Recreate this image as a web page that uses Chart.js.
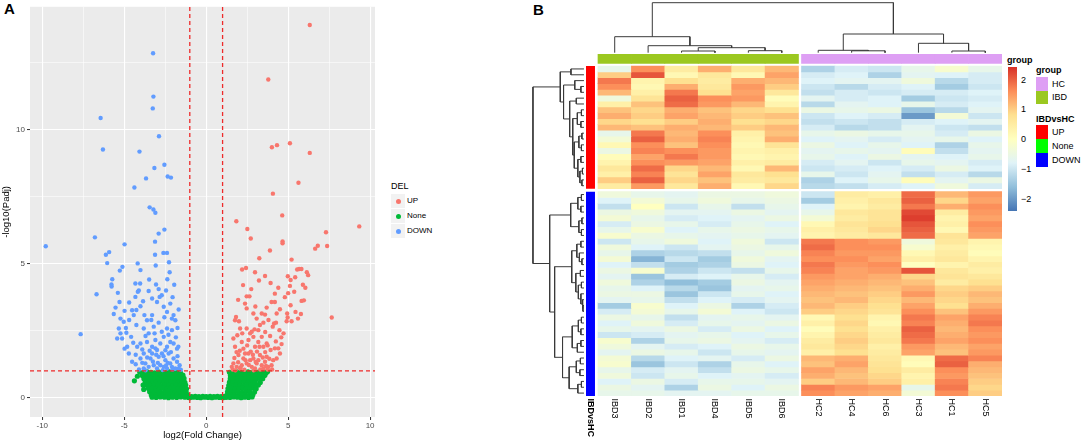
<!DOCTYPE html>
<html>
<head>
<meta charset="utf-8">
<script src="https://cdn.jsdelivr.net/npm/chart.js@4.4.1/dist/chart.umd.min.js"></script>
<style>
  body { margin: 0; width: 1084px; height: 443px; overflow: hidden; position: relative; background: #fff;
         font-family: "Liberation Sans", Arial, sans-serif; }
  canvas { position: absolute; }
  .t { position: absolute; white-space: nowrap; color: #000; }
  .key { position: absolute; }
</style>
</head>
<body>
<div class="t" style="left:4px;top:0px;font-weight:bold;font-size:15px;">A</div>
<div class="t" style="left:533px;top:1px;font-weight:bold;font-size:15px;">B</div>

<canvas id="volcano" width="380" height="443" style="left:0;top:0;"></canvas>
<div id="delLegend"></div>

<canvas id="colDendro" width="416" height="54" style="left:586px;top:0;"></canvas>
<canvas id="rowDendro" width="56" height="342" style="left:530px;top:54px;"></canvas>
<canvas id="heatmap" width="416" height="389" style="left:586px;top:54px;"></canvas>
<div id="heatLegend"></div>

<script>
Chart.defaults.font.family = '"Liberation Sans", Arial, sans-serif';

// ---------- volcano data (log2FC, -log10 padj) ----------
const upPts = [
  [6.32,13.9],[3.79,11.87],[4.01,9.34],[4.32,9.42],[5.11,9.49],[6.32,9.13],[5.63,8.02],[4.07,7.61],
  [4.64,6.8],[1.84,6.58],[2.51,6.29],[9.34,6.39],[2.72,5.94],[7.31,6.17],[4.66,5.83],[4.66,5.76],
  [7.38,5.66],[6.65,5.56],[6.81,5.67],[3.89,5.49],[3.24,5.2],[5.21,5.15],[2.19,4.78],[2.43,4.84],
  [2.98,4.68],[3.59,4.54],[3.22,4.37],[3.93,4.28],[4.98,4.53],[5.15,4.39],[5.43,4.49],[5.11,4.17],
  [5.55,4.78],[5.67,4.8],[5.81,4.8],[6.14,4.68],[6.22,4.57],[5.9,4.21],
  [7.66,2.99],[5.82,3.61],[5.96,3.63],[5.37,3.95],[5.15,3.45],[5.78,3.12],[4.94,3.14],[4.97,2.99],
  [5.21,2.85],[4.91,2.85],[4.3,3.14],[4.19,3.57],[3.99,3.57],[4.19,3.88],[3.69,3.36],[3.39,3.14],
  [3.59,3.1],[3.08,2.95],[2.88,3.14],[2.47,3.33],[2.37,3.51],[2.47,3.78],[2.64,3.78],[1.82,3.01],
  [1.76,2.89],[2.07,2.58],[2.47,2.58],[2.68,2.4],[2.78,2.46],[3.18,2.52],[3.28,2.71],[3.49,2.8],
  [4.14,2.77],[4.26,2.8],[4.06,2.65],[4.47,2.52],[4.72,2.4],[4.58,2.25],[1.66,2.21],[1.9,2.33],
  [1.76,1.9],[2.17,2.08],[2.27,1.83],[2.58,2.15],[2.88,2.27],[2.98,1.9],[3.18,2.08],[3.39,2.27],
  [3.49,1.9],[3.69,2.02],[3.93,1.78],[4.19,1.84],[4.4,1.84],[4.5,1.65],[4.3,1.46],[4.09,1.4],
  [3.69,1.53],[3.28,1.59],[2.88,1.46],[2.58,1.65],[2.27,1.46],[1.97,1.59],[1.66,1.28],[1.56,1.15],
  [1.86,1.15],[2.17,1.21],[2.47,1.28],[2.78,1.15],[3.08,1.28],[3.39,1.21],[3.59,1.34],[3.79,1.15],
  [3.99,1.21],[2.07,1.09],[2.98,1.09],[3.49,1.09],[2.68,1.4],[3.18,1.4],[2.37,1.65],
  [1.62,1.05],[1.95,1.32],[2.33,1.04],[2.6,1.22],[2.85,1.6],[3.02,1.33],[3.3,1.05],[3.6,1.7],
  [3.85,1.45],[4.02,1.05],[1.72,1.48],[2.05,1.75],[2.5,1.95],[2.72,1.72],[3.1,1.72],[3.45,1.5],
  [3.75,1.95],[4.25,2.1],[2.2,2.4],[2.95,2.55],[3.6,2.45],[1.85,1.7],[2.4,1.4],[3.25,1.9],
  [3.9,2.3],[4.6,2.0],[2.0,2.85],[3.0,3.4],[3.8,2.9],[4.5,3.3],[4.8,3.75],[5.45,3.2],
  [5.0,3.9],[6.05,4.1],[2.25,4.2],[1.95,3.65],[2.75,4.05],[5.6,2.95],[4.4,4.1],[2.1,1.12],
  [3.65,1.18],[1.78,1.02],[2.9,1.02],[3.75,1.05]
];
const downPts = [
  [-3.24,12.85],[-3.22,11.23],[-3.26,10.79],[-6.44,10.43],[-2.88,9.75],[-6.3,9.26],[-4.07,9.18],
  [-2.55,8.69],[-3.16,8.57],[-2.35,8.25],[-2.15,8.21],[-3.67,8.18],[-4.38,7.84],[-3.45,7.1],
  [-3.22,7.02],[-3.1,6.9],[-2.55,6.27],[-2.9,6.12],[-6.79,5.98],[-4.98,5.72],[-9.79,5.65],
  [-3.12,5.82],[-5.92,5.43],[-6.12,5.33],[-3.12,5.33],[-2.61,5.4],[-2.39,5.4],[-6.04,5.02],
  [-4.18,5.01],[-2.27,5.05],[-3.08,4.93],[-5.11,4.88],[-5.27,4.74],[-4.01,4.76],[-2.23,4.68],
  [-5.73,4.42],[-3.48,4.41],[-2.37,4.42],[-5.78,4.22],[-5.77,4.15],[-4.32,4.26],[-4.03,4.26],
  [-3.06,4.22],[-1.95,4.21],[-4.11,4.0],[-2.9,4.05],
  [-6.69,3.86],[-5.39,3.91],[-5.29,3.57],[-5.53,3.36],[-5.64,3.12],[-4.98,3.24],[-4.32,3.76],
  [-4.17,3.95],[-4.01,3.41],[-4.26,3.27],[-4.52,3.26],[-4.42,3.08],[-3.77,3.08],[-3.51,3.98],
  [-3.61,2.89],[-3.3,3.08],[-3.0,3.57],[-2.84,3.76],[-2.71,3.82],[-2.59,3.39],[-2.39,3.2],
  [-2.19,3.51],[-1.99,3.08],[-1.68,3.29],[-1.88,2.89],[-2.09,2.95],[-5.23,2.95],[-5.03,2.83],
  [-5.33,2.58],[-5.23,2.4],[-4.87,2.42],[-5.43,2.21],[-5.13,2.21],[-4.58,2.27],[-7.66,2.37],
  [-4.26,2.71],[-3.81,2.58],[-3.51,2.4],[-3.2,2.65],[-2.9,2.8],[-2.71,2.46],[-2.39,2.58],
  [-2.09,2.52],[-4.21,1.9],[-4.01,2.02],[-4.82,1.9],[-4.98,1.83],[-4.72,1.65],[-4.52,1.34],
  [-3.81,1.65],[-3.61,2.08],[-3.3,1.9],[-3.1,2.15],[-3.0,1.78],[-2.8,2.02],[-2.59,2.27],
  [-2.39,1.9],[-2.19,2.08],[-1.99,2.02],[-1.78,1.83],[-4.01,1.46],[-3.71,1.28],[-3.4,1.46],
  [-3.2,1.21],[-2.9,1.53],[-2.8,1.21],[-2.49,1.4],[-2.29,1.65],[-2.19,1.28],[-1.99,1.46],
  [-1.78,1.34],[-1.62,1.21],[-3.51,1.15],[-3.0,1.09],[-2.59,1.15],[-2.39,1.09],[-2.09,1.15],
  [-1.88,1.09],[-1.68,1.09],[-3.81,1.09],[-3.1,1.84],[-2.7,1.65],[-2.49,1.77],[-3.3,1.65],
  [-4.1,1.05],[-3.9,1.3],[-3.6,1.5],[-3.25,1.35],[-2.95,1.3],[-2.65,1.03],[-2.35,1.3],
  [-2.05,1.05],[-1.75,1.55],[-1.55,1.04],[-2.15,1.7],[-2.6,1.55],[-3.45,1.75],[-3.9,1.8],
  [-4.3,1.6],[-1.85,2.25],[-2.3,2.35],[-3.15,2.4],[-3.7,2.3],[-4.45,2.05],[-4.7,2.9],
  [-4.9,2.6],[-3.35,2.9],[-2.55,3.0],[-1.75,2.6],[-2.05,3.75],[-3.85,3.6],[-4.7,3.55],
  [-3.3,3.7],[-2.45,4.0],[-1.7,1.9],[-2.45,1.2],[-3.05,1.6],[-3.7,1.02],[-4.3,1.25]
];
const nonePts = [
  // left cloud
  [-4.05,0.95],[-3.82,0.94],[-3.6,0.96],[-3.37,0.95],[-3.15,0.93],[-2.92,0.96],[-2.7,0.95],[-2.48,0.94],
  [-2.25,0.96],[-2.03,0.95],[-1.8,0.94],[-1.58,0.95],
  [-3.9,0.83],[-3.68,0.82],[-3.45,0.84],[-3.23,0.83],[-3.0,0.81],[-2.78,0.84],[-2.55,0.83],[-2.33,0.82],
  [-2.1,0.84],[-1.88,0.83],[-1.65,0.82],[-1.42,0.84],
  [-3.8,0.71],[-3.58,0.7],[-3.35,0.72],[-3.13,0.71],[-2.9,0.69],[-2.68,0.72],[-2.45,0.71],[-2.23,0.7],
  [-2.0,0.72],[-1.78,0.71],[-1.55,0.7],[-1.35,0.72],
  [-3.72,0.58],[-3.5,0.59],[-3.27,0.57],[-3.05,0.58],[-2.82,0.6],[-2.6,0.57],[-2.37,0.58],[-2.15,0.59],
  [-1.92,0.57],[-1.7,0.58],[-1.48,0.59],[-1.3,0.57],
  [-3.62,0.46],[-3.4,0.45],[-3.17,0.47],[-2.95,0.46],[-2.72,0.44],[-2.5,0.47],[-2.27,0.46],[-2.05,0.45],
  [-1.82,0.47],[-1.6,0.46],[-1.38,0.45],[-1.25,0.47],
  [-3.52,0.34],[-3.3,0.35],[-3.08,0.33],[-2.85,0.34],[-2.63,0.36],[-2.4,0.33],[-2.18,0.34],[-1.95,0.35],
  [-1.73,0.33],[-1.5,0.34],[-1.3,0.35],[-1.2,0.33],
  [-3.45,0.22],[-3.22,0.21],[-3.0,0.23],[-2.78,0.22],[-2.55,0.2],[-2.33,0.23],[-2.1,0.22],[-1.88,0.21],
  [-1.65,0.23],[-1.43,0.22],[-1.22,0.21],
  [-3.35,0.1],[-3.12,0.11],[-2.9,0.09],[-2.67,0.1],[-2.45,0.12],[-2.22,0.09],[-2.0,0.1],[-1.77,0.11],
  [-1.55,0.09],[-1.33,0.1],[-1.15,0.11],
  [-3.3,0.02],[-3.05,0.01],[-2.8,0.03],[-2.55,0.02],[-2.3,0.0],[-2.05,0.02],[-1.8,0.01],[-1.55,0.03],
  [-1.3,0.02],[-1.08,0.01],
  [-4.38,0.63],[-3.85,0.47],[-3.81,0.31],[-4.2,0.8],
  // bottom strip
  [-1.0,0.0],[-0.78,0.02],[-0.55,0.01],[-0.33,0.0],[-0.1,0.02],[0.12,0.01],[0.35,0.0],[0.57,0.02],
  [0.8,0.01],[1.02,0.0],[1.2,0.02],[-0.9,0.04],[-0.66,0.05],[-0.44,0.04],[-0.21,0.05],[0.01,0.04],
  [0.24,0.05],[0.46,0.04],[0.69,0.05],[0.91,0.04],[1.12,0.05],
  // right cloud
  [1.42,0.95],[1.65,0.94],[1.87,0.96],[2.1,0.95],[2.32,0.93],[2.55,0.96],[2.77,0.95],[3.0,0.94],
  [3.22,0.96],[3.45,0.95],[3.68,0.94],
  [1.48,0.83],[1.7,0.82],[1.93,0.84],[2.15,0.83],[2.38,0.81],[2.6,0.84],[2.83,0.83],[3.05,0.82],
  [3.28,0.84],[3.55,0.83],
  [1.47,0.71],[1.7,0.7],[1.92,0.72],[2.15,0.71],[2.37,0.69],[2.6,0.72],[2.82,0.71],[3.05,0.7],
  [3.27,0.72],[3.45,0.71],
  [1.42,0.58],[1.65,0.59],[1.87,0.57],[2.1,0.58],[2.32,0.6],[2.55,0.57],[2.77,0.58],[3.0,0.59],
  [3.3,0.57],
  [1.38,0.46],[1.6,0.45],[1.83,0.47],[2.05,0.46],[2.28,0.44],[2.5,0.47],[2.73,0.46],[2.95,0.45],
  [3.18,0.47],
  [1.33,0.34],[1.55,0.35],[1.78,0.33],[2.0,0.34],[2.23,0.36],[2.45,0.33],[2.68,0.34],[2.9,0.35],
  [3.05,0.33],
  [1.3,0.22],[1.52,0.21],[1.75,0.23],[1.97,0.22],[2.2,0.2],[2.42,0.23],[2.65,0.22],[2.95,0.21],
  [1.27,0.1],[1.5,0.11],[1.72,0.09],[1.95,0.1],[2.17,0.12],[2.4,0.09],[2.62,0.1],[2.85,0.11],
  [1.22,0.02],[1.45,0.01],[1.68,0.03],[1.9,0.02],[2.13,0.0],[2.35,0.02],[2.58,0.01],[2.8,0.03],
  [3.59,0.85],[3.75,0.98]
];
const fcCut = [-1, 1];
const padjCut = 1;

const delColors = { UP: "#F8766D", None: "#00BA38", DOWN: "#619CFF" };
const delLabels = ["UP", "None", "DOWN"];

// ---------- heatmap data ----------
const sampleNames = ["IBD3", "IBD2", "IBD1", "IBD4", "IBD5", "IBD6", "HC2", "HC4", "HC6", "HC3", "HC1", "HC5"];
const sampleGroup = ["IBD", "IBD", "IBD", "IBD", "IBD", "IBD", "HC", "HC", "HC", "HC", "HC", "HC"];

// z-scores, UP genes (rows top to bottom)
const upRows = [
  [-0.6, 1.6, 0.5, 1.3, 0.6, 1.2, -1.3, -0.9, -1.0, -0.6, -0.2, -0.6],
  [1.0, 2.1, 0.2, 0.6, 0.2, 1.4, -0.9, -0.8, -1.3, -0.7, -0.8, -0.9],
  [1.8, 0.3, 0.8, 0.5, 1.3, 1.2, -0.8, -0.7, -0.7, -0.4, -1.2, -0.9],
  [1.6, 0.2, 1.3, 0.6, 1.5, 1.0, -1.0, -1.2, -0.9, -0.8, -1.4, -1.0],
  [1.2, 0.4, 1.8, 0.8, 1.4, 0.6, -1.1, -0.9, -1.0, -0.9, -0.9, -0.8],
  [-0.4, 0.7, 2.0, 1.6, 1.5, 0.1, -0.7, -0.9, -0.8, -1.4, -1.0, -0.9],
  [0.4, 1.1, 1.9, 1.5, 1.2, 0.3, -1.2, -0.7, -0.8, -0.6, -0.9, -0.8],
  [1.1, 0.9, 1.3, 1.1, 0.9, 0.8, -0.5, -0.6, -0.5, -1.5, -1.2, -0.7],
  [1.3, 1.0, 1.4, 1.2, 1.0, 1.1, -1.0, -0.8, -0.9, -2.0, -0.3, -1.0],
  [0.9, 0.8, 1.0, 1.3, 0.8, 0.9, -1.1, -1.0, -1.1, -0.9, -0.8, -0.7],
  [1.2, 1.1, 1.3, 1.2, 1.0, 1.2, -0.9, -1.2, -1.1, -0.7, -1.0, -1.1],
  [-0.6, 1.8, 1.2, 1.6, 0.4, 1.1, -0.6, -0.5, -0.6, -0.6, -0.9, -0.5],
  [-0.3, 2.0, 1.3, 1.7, 0.3, 1.3, -0.8, -0.7, -0.9, -0.7, -0.6, -0.8],
  [0.2, 1.6, 1.1, 1.6, 0.2, 0.7, -0.5, -0.8, -0.6, -0.8, -1.3, -0.6],
  [-0.5, 1.7, 1.6, 1.5, 0.3, 0.4, -0.7, -0.6, -0.7, 0.1, -1.1, -0.7],
  [0.1, 1.4, 1.8, 1.5, 0.2, 0.3, -0.6, -0.8, -0.5, -0.7, -0.8, -0.6],
  [0.3, 1.6, 1.5, 1.4, 0.4, 0.5, -0.9, -0.7, -1.0, -0.6, -0.7, -0.9],
  [0.6, 1.9, 0.9, 1.2, 0.2, 1.2, -1.0, -0.9, -0.8, -0.9, -0.5, -0.8],
  [0.4, 1.7, 0.7, 1.4, 0.6, 0.8, -0.6, -1.0, -0.7, -1.1, -0.9, -1.2],
  [1.0, 2.0, 0.9, 1.1, 0.5, 0.6, -1.3, -0.8, -0.6, 0.1, -0.7, -0.5],
  [0.5, 1.5, 0.6, 1.3, 0.2, 0.9, -1.2, -1.1, -0.9, -0.8, -0.4, -0.9]
];
// z-scores, DOWN genes
const downRows = [
  [-0.4, -0.6, -0.7, -0.5, -0.5, -0.4, -1.0, 0.5, 0.4, 1.9, 1.2, 1.5],
  [-0.8, -0.3, -0.6, -0.4, -0.6, -0.5, -1.4, 0.4, 0.6, 2.0, 0.9, 1.4],
  [-1.1, 0.0, -1.0, -0.6, -1.1, -0.6, -0.8, 0.3, 0.5, 1.8, 1.3, 1.6],
  [-0.5, -0.4, -0.7, -0.7, -0.5, -0.7, -0.6, 0.6, 0.7, 2.2, 0.5, 1.5],
  [-0.3, -0.6, -0.9, -0.8, -0.7, -0.5, -0.3, 0.5, 0.7, 2.3, 0.3, 1.4],
  [-0.9, -0.5, -0.6, -0.9, -0.6, -0.8, 0.2, 0.7, 0.8, 2.1, 0.4, 1.6],
  [-0.6, -0.2, -0.8, -0.6, -0.5, -0.6, 0.4, 0.6, 0.9, 2.0, 0.2, 1.5],
  [-0.2, -0.5, -0.6, -0.7, -0.6, -0.7, 0.3, 0.5, 0.6, 1.9, 0.7, 1.4],
  [-1.0, -0.6, -0.4, -0.8, -0.4, -1.0, 1.8, 1.6, 1.5, -0.4, 0.6, 0.3],
  [-0.4, -0.8, -1.0, -0.7, -0.5, -0.6, 1.9, 1.6, 1.6, -0.2, 0.4, 0.2],
  [-0.6, -1.3, -1.2, -1.1, -0.6, -0.4, 1.7, 1.5, 1.5, 0.2, 0.5, 0.1],
  [-0.3, -1.7, -1.0, -1.4, -0.4, -0.7, 1.6, 1.6, 1.4, 0.4, 0.6, 0.3],
  [-0.8, -1.1, -1.4, -1.3, -0.5, -0.8, 1.8, 1.5, 1.6, 0.0, 0.3, 0.5],
  [-0.5, -0.2, -1.3, -1.0, -1.1, -0.6, 1.7, 1.4, 1.5, 2.1, 0.6, 0.4],
  [-0.7, -1.5, -0.9, -0.8, -0.6, -0.9, 1.5, 1.4, 1.3, 0.9, 0.7, 0.6],
  [-0.4, -1.3, -1.6, -1.4, -0.5, -0.7, 1.4, 1.3, 1.2, 1.1, 0.5, 0.8],
  [-0.6, -0.8, -1.2, -1.5, -0.7, -0.6, 1.3, 1.2, 1.1, 1.3, 0.9, 1.0],
  [-0.5, -0.5, -1.5, -1.0, -0.6, -0.8, 1.2, 1.1, 1.0, 1.5, 1.0, 1.2],
  [-0.7, -0.6, -1.1, -0.8, -0.9, -0.7, 1.1, 1.2, 0.9, 1.2, 0.9, 1.1],
  [-1.4, -0.2, -0.8, -0.5, -1.3, -0.9, 1.2, 1.0, 0.8, 1.4, 0.8, 1.3],
  [-0.9, -0.3, -0.6, -0.3, -0.8, -1.0, 1.0, 0.9, 0.7, 1.6, 1.1, 1.5],
  [-0.5, -0.6, -1.1, -0.7, -0.6, -0.7, 0.2, 0.8, 0.3, 1.8, 1.4, 1.7],
  [-0.8, -0.4, -0.9, -0.6, -0.7, -0.5, 0.4, 0.9, 0.2, 1.7, 1.3, 1.8],
  [-0.6, -0.7, -0.5, -0.9, -0.5, -0.8, 0.1, 0.8, 0.4, 2.0, 1.2, 1.6],
  [-1.0, -0.9, -0.7, -0.6, -0.8, -0.6, 0.3, 0.9, 0.5, 1.9, 1.3, 1.5],
  [-0.2, -1.3, -0.6, -0.5, -0.7, -0.9, 0.5, 1.0, 0.6, 1.8, 1.4, 1.6],
  [-0.4, -0.7, -0.9, -0.8, -0.5, -0.6, 0.6, 0.9, 0.4, 1.5, 1.2, 1.4],
  [-0.7, -0.5, -0.6, -1.0, -0.6, -0.7, 0.4, 0.8, 0.5, 1.4, 1.1, 1.5],
  [-0.3, -1.2, -0.8, -0.7, -0.9, -0.5, 1.2, 1.3, 0.6, 0.2, 1.9, 1.7],
  [-0.2, -1.5, -1.0, -1.3, -0.6, -0.8, 1.1, 1.4, 0.7, 0.1, 2.0, 1.3],
  [-0.6, -0.9, -0.7, -1.1, -0.5, -0.6, 1.4, 1.2, 0.8, 0.5, 1.6, 1.2],
  [-0.4, -1.0, -0.6, -0.8, -0.7, -0.9, 1.3, 1.1, 0.9, 0.3, 1.5, 1.1],
  [-0.8, -0.5, -0.9, -0.6, -0.6, -0.7, 1.0, 1.2, 1.0, 0.4, 1.7, 1.0],
  [-0.5, -0.7, -1.3, -0.5, -0.8, -0.5, 1.7, 1.5, 1.4, -0.6, 1.8, 0.9],
  [-0.6, -0.6, -0.7, -0.7, -0.6, -0.6, 1.6, 1.4, 1.3, -0.3, 1.6, 1.0]
];

// dendrograms: [height, left, right], leaves are indices
const colTree = [10,
  [3.2, 0, [1.4, 1, [1.0, [0.34, 2, 3], [0.4, 4, 5]]]],
  [3.74, [0.48, 6, [0.38, 7, 8]], [1.88, 9, [0.34, 10, 11]]]
];
const rowRootHeight = 10;
const rowTreeUp = [4.64,
  [2.55, 0, 1],
  [4.0,
    [1.8, 2, [0.6, 3, 4]],
    [2.8,
      [1.5, 5, 6],
      [2.2,
        [1.3, [0.5, 7, 8], [0.6, 9, 10]],
        [1.9, [1.0, [0.4, 11, 12], [0.5, 13, 14]], [1.2, [0.6, 15, 16], [0.8, [0.3, 17, 18], [0.4, 19, 20]]]]]]]
];
const rowTreeDown = [6.72,
  [2.6, [1.2, [0.5, 0, 1], [0.6, 2, 3]], [1.0, [0.4, 4, 5], [0.5, 6, 7]]],
  [5.75,
    [2.4, [1.4, [0.6, 8, 9], [0.9, 10, [0.4, 11, 12]]],
          [1.6, [0.7, 13, 14], [1.1, [0.5, 15, 16], [0.6, 17, [0.3, 18, [0.2, 19, 20]]]]]],
    [4.2,
      [2.3, [1.1, [0.5, 21, 22], [0.6, 23, 24]], [1.3, [0.6, 25, 26], 27]],
      [2.9, [1.5, [0.7, 28, 29], [0.8, 30, 31]], [1.2, [0.5, 32, 33], 34]]]]
];

const heatStops = ["#4575B4", "#91BFDB", "#E0F3F8", "#FFFFBF", "#FEE090", "#FC8D59", "#D73027"];
const heatMin = -2.4, heatMax = 2.42;
const heatTicks = [2, 1, 0, -1, -2];
const groupColors = { HC: "#DE9FF4", IBD: "#9BC820" };
const diffColors = { UP: "#FF0000", None: "#00FF00", DOWN: "#0000FF" };

// ---------- helpers ----------
function hexRgb(h) {
  return [parseInt(h.slice(1, 3), 16), parseInt(h.slice(3, 5), 16), parseInt(h.slice(5, 7), 16)];
}
function heatColor(v) {
  let t = (v - heatMin) / (heatMax - heatMin);
  t = Math.min(Math.max(t, 0), 1) * (heatStops.length - 1);
  const i = Math.min(Math.floor(t), heatStops.length - 2);
  const f = t - i;
  const a = hexRgb(heatStops[i]), b = hexRgb(heatStops[i + 1]);
  return "rgb(" + a.map((c, k) => Math.round(c + (b[k] - c) * f)).join(",") + ")";
}
const pts = (arr) => arr.map((p) => ({ x: p[0], y: p[1] }));

// ---------- volcano ----------
const chartBg = {
  id: "chartBg",
  beforeDraw(chart) {
    const { ctx, chartArea: a } = chart;
    ctx.save();
    ctx.fillStyle = "#EBEBEB";
    ctx.fillRect(a.left, a.top, a.right - a.left, a.bottom - a.top);
    ctx.restore();
  },
};
const xMin = -10.75, xMax = 10.3, yMin = -0.72, yMax = 14.58;
const isMajor = (c) => c.tick && Math.abs(c.tick.value % 5) < 1e-9;
const gridOpts = {
  color: "#FFFFFF",
  lineWidth: (c) => (isMajor(c) ? 1.1 : 0.55),
  tickColor: (c) => (isMajor(c) ? "#333333" : "rgba(0,0,0,0)"),
  tickLength: 3,
  tickWidth: 1,
};
const cutLine = { showLine: true, pointRadius: 0, borderColor: "#EE2A2A", borderWidth: 1.3, borderDash: [4, 3] };

new Chart(document.getElementById("volcano"), {
  type: "scatter",
  data: {
    datasets: [
      { ...cutLine, data: [{ x: fcCut[0], y: yMin }, { x: fcCut[0], y: yMax }] },
      { ...cutLine, data: [{ x: fcCut[1], y: yMin }, { x: fcCut[1], y: yMax }] },
      { ...cutLine, data: [{ x: xMin, y: padjCut }, { x: xMax, y: padjCut }] },
      { label: "UP", data: pts(upPts), backgroundColor: delColors.UP, pointRadius: 2.2, borderWidth: 0 },
      { label: "DOWN", data: pts(downPts), backgroundColor: delColors.DOWN, pointRadius: 2.2, borderWidth: 0 },
      { label: "None", data: pts(nonePts), backgroundColor: delColors.None, pointRadius: 2.6, borderWidth: 0 },
    ],
  },
  options: {
    responsive: false,
    animation: false,
    events: [],
    layout: { padding: { top: 6, right: 5, left: 0, bottom: 0 } },
    plugins: { legend: { display: false }, tooltip: { enabled: false } },
    scales: {
      x: {
        type: "linear", min: xMin, max: xMax,
        border: { display: false },
        grid: gridOpts,
        ticks: {
          stepSize: 2.5, includeBounds: false, autoSkip: false, maxRotation: 0, padding: 1,
          color: "#4D4D4D", font: { size: 8 },
          callback: (v) => (Math.abs(v % 5) < 1e-9 ? String(v) : ""),
        },
        title: { display: true, text: "log2(Fold Change)", color: "#000", font: { size: 9.5 }, padding: { top: 0, bottom: 2 } },
        afterFit: (s) => { s.height = 26; },
      },
      y: {
        type: "linear", min: yMin, max: yMax,
        border: { display: false },
        grid: gridOpts,
        ticks: {
          stepSize: 2.5, includeBounds: false, autoSkip: false, padding: 2,
          color: "#4D4D4D", font: { size: 8 },
          callback: (v) => (Math.abs(v % 5) < 1e-9 ? String(v) : ""),
        },
        title: { display: true, text: "-log10(Padj)", color: "#000", font: { size: 9.5 }, padding: { top: 1, bottom: 0 } },
        afterFit: (s) => { s.width = 30; },
      },
    },
  },
  plugins: [chartBg],
});

// volcano legend
let del = '<div class="t" style="left:391px;top:181px;font-size:9px;line-height:11px;">DEL</div>';
delLabels.forEach((lab, i) => {
  const top = 194 + i * 15.2;
  del += '<div class="key" style="left:391px;top:' + top + 'px;width:14px;height:14px;background:#F2F2F2;"></div>';
  del += '<div class="key" style="left:395.5px;top:' + (top + 4.5) + 'px;width:5px;height:5px;border-radius:50%;background:' + delColors[lab] + ';"></div>';
  del += '<div class="t" style="left:407px;top:' + (top + 2) + 'px;font-size:8px;line-height:10px;">' + lab + '</div>';
});
document.getElementById("delLegend").innerHTML = del;

// ---------- heatmap layout in scale units ----------
const colGap = 0.09;      // gap between IBD and HC blocks (column units)
const rowGap = 0.51;      // gap between UP and DOWN blocks (row units)
const annX = -0.725;      // row annotation strip centre
const hxMin = -0.859, hxMax = 11.59;
const hyMin = -2.06, hyMax = upRows.length + rowGap + downRows.length;
const groupBand = [-2.06, -0.43];
const colX = (i) => i + (sampleGroup[i] === "HC" ? colGap : 0);
const upTop = (r) => r;
const downTop = (r) => upRows.length + rowGap + r;

function rowDataset(vals, y0) {
  return {
    type: "bar",
    data: vals.map((v, i) => ({ x: colX(i), y: [y0, y0 + 1] })),
    backgroundColor: vals.map(heatColor),
    borderWidth: 0, grouped: false, barPercentage: 1, categoryPercentage: 1,
  };
}
const heatSets = [];
upRows.forEach((vals, r) => heatSets.push(rowDataset(vals, upTop(r))));
downRows.forEach((vals, r) => heatSets.push(rowDataset(vals, downTop(r))));
heatSets.push({
  type: "bar",
  data: sampleNames.map((n, i) => ({ x: colX(i), y: groupBand })),
  backgroundColor: sampleGroup.map((g) => groupColors[g]),
  borderWidth: 0, grouped: false, barPercentage: 1, categoryPercentage: 1,
});
const annLine = { type: "line", pointRadius: 0, borderWidth: 9, borderCapStyle: "butt" };
heatSets.push({ ...annLine, borderColor: diffColors.UP, data: [{ x: annX, y: 0 }, { x: annX, y: upRows.length }] });
heatSets.push({ ...annLine, borderColor: diffColors.DOWN, data: [{ x: annX, y: downTop(0) }, { x: annX, y: hyMax }] });

const colLabels = {
  id: "colLabels",
  afterDraw(chart) {
    const { ctx, chartArea: a } = chart;
    const x = chart.scales.x;
    ctx.save();
    ctx.fillStyle = "#000";
    ctx.textAlign = "left";
    ctx.textBaseline = "middle";
    const put = (text, px, font) => {
      ctx.save();
      ctx.font = font;
      ctx.translate(px, a.bottom + 2.5);
      ctx.rotate(Math.PI / 2);
      ctx.fillText(text, 0, 0);
      ctx.restore();
    };
    sampleNames.forEach((n, i) => put(n, x.getPixelForValue(colX(i)), '9px "Liberation Sans"'));
    put("IBDvsHC", x.getPixelForValue(annX), 'bold 9px "Liberation Sans"');
    ctx.restore();
  },
};

new Chart(document.getElementById("heatmap"), {
  type: "bar",
  data: { datasets: heatSets },
  options: {
    responsive: false,
    animation: false,
    events: [],
    layout: { padding: { top: 0, left: 0, right: 0, bottom: 47 } },
    plugins: { legend: { display: false }, tooltip: { enabled: false } },
    scales: {
      x: { type: "linear", display: false, offset: false, min: hxMin, max: hxMax,
           ticks: { stepSize: 1, includeBounds: false } },
      y: { type: "linear", display: false, offset: false, reverse: true, min: hyMin, max: hyMax },
    },
  },
  plugins: [colLabels],
});

// ---------- dendrograms ----------
function dendro(tree, leafPos, point, out) {
  if (typeof tree === "number") return { p: leafPos(tree), h: 0 };
  const a = dendro(tree[1], leafPos, point, out);
  const b = dendro(tree[2], leafPos, point, out);
  return join(a, b, tree[0], point, out);
}
function join(a, b, h, point, out) {
  out.push(point(a.p, a.h), point(a.p, h), point(b.p, h), point(b.p, b.h), { x: null, y: null });
  return { p: (a.p + b.p) / 2, h: h };
}
const treeLine = { showLine: true, pointRadius: 0, borderColor: "#3A3A3A", borderWidth: 1, spanGaps: false };

const colSegs = [];
dendro(colTree, (i) => colX(i), (p, h) => ({ x: p, y: h }), colSegs);
new Chart(document.getElementById("colDendro"), {
  type: "scatter",
  data: { datasets: [{ ...treeLine, data: colSegs }] },
  options: {
    responsive: false, animation: false, events: [],
    layout: { padding: 0 },
    plugins: { legend: { display: false }, tooltip: { enabled: false } },
    scales: {
      x: { type: "linear", display: false, min: hxMin, max: hxMax },
      y: { type: "linear", display: false, min: -0.26, max: 10.54 },
    },
  },
});

const rowSegs = [];
const rowPt = (p, h) => ({ x: h, y: p });
const upNode = dendro(rowTreeUp, (r) => upTop(r) + 0.5, rowPt, rowSegs);
const downNode = dendro(rowTreeDown, (r) => downTop(r) + 0.5, rowPt, rowSegs);
join(upNode, downNode, rowRootHeight, rowPt, rowSegs);
new Chart(document.getElementById("rowDendro"), {
  type: "scatter",
  data: { datasets: [{ ...treeLine, data: rowSegs }] },
  options: {
    responsive: false, animation: false, events: [],
    layout: { padding: 0 },
    plugins: { legend: { display: false }, tooltip: { enabled: false } },
    scales: {
      x: { type: "linear", display: false, reverse: true, min: -0.4, max: 10.58 },
      y: { type: "linear", display: false, reverse: true, min: hyMin, max: hyMax },
    },
  },
});

// ---------- heatmap legends ----------
const barTop = 67, barH = 144;
let hl = '<div class="t" style="left:1007px;top:55px;font-size:9px;font-weight:bold;line-height:10px;">group</div>';
hl += '<div class="key" style="left:1008px;top:' + barTop + 'px;width:9px;height:' + barH +
      'px;background:linear-gradient(to top,' + heatStops.join(",") + ');"></div>';
heatTicks.forEach((v) => {
  const y = barTop + (heatMax - v) / (heatMax - heatMin) * barH;
  hl += '<div class="t" style="left:1021px;top:' + (y - 5) + 'px;font-size:9px;line-height:10px;">' +
        String(v).replace("-", "\u2212") + '</div>';
});
hl += '<div class="t" style="left:1036px;top:65px;font-size:9px;font-weight:bold;line-height:10px;">group</div>';
["HC", "IBD"].forEach((g, i) => {
  const top = 77.3 + i * 13.4;
  hl += '<div class="key" style="left:1036px;top:' + top + 'px;width:12px;height:13.4px;background:' + groupColors[g] + ';"></div>';
  hl += '<div class="t" style="left:1052px;top:' + (top + 1.7) + 'px;font-size:9px;line-height:10px;">' + g + '</div>';
});
hl += '<div class="t" style="left:1036px;top:114px;font-size:9px;font-weight:bold;line-height:10px;">IBDvsHC</div>';
["UP", "None", "DOWN"].forEach((g, i) => {
  const top = 125 + i * 13.9;
  hl += '<div class="key" style="left:1036px;top:' + top + 'px;width:12px;height:13.9px;background:' + diffColors[g] + ';"></div>';
  hl += '<div class="t" style="left:1052px;top:' + (top + 2) + 'px;font-size:9px;line-height:10px;">' + g + '</div>';
});
document.getElementById("heatLegend").innerHTML = hl;
</script>
</body>
</html>
